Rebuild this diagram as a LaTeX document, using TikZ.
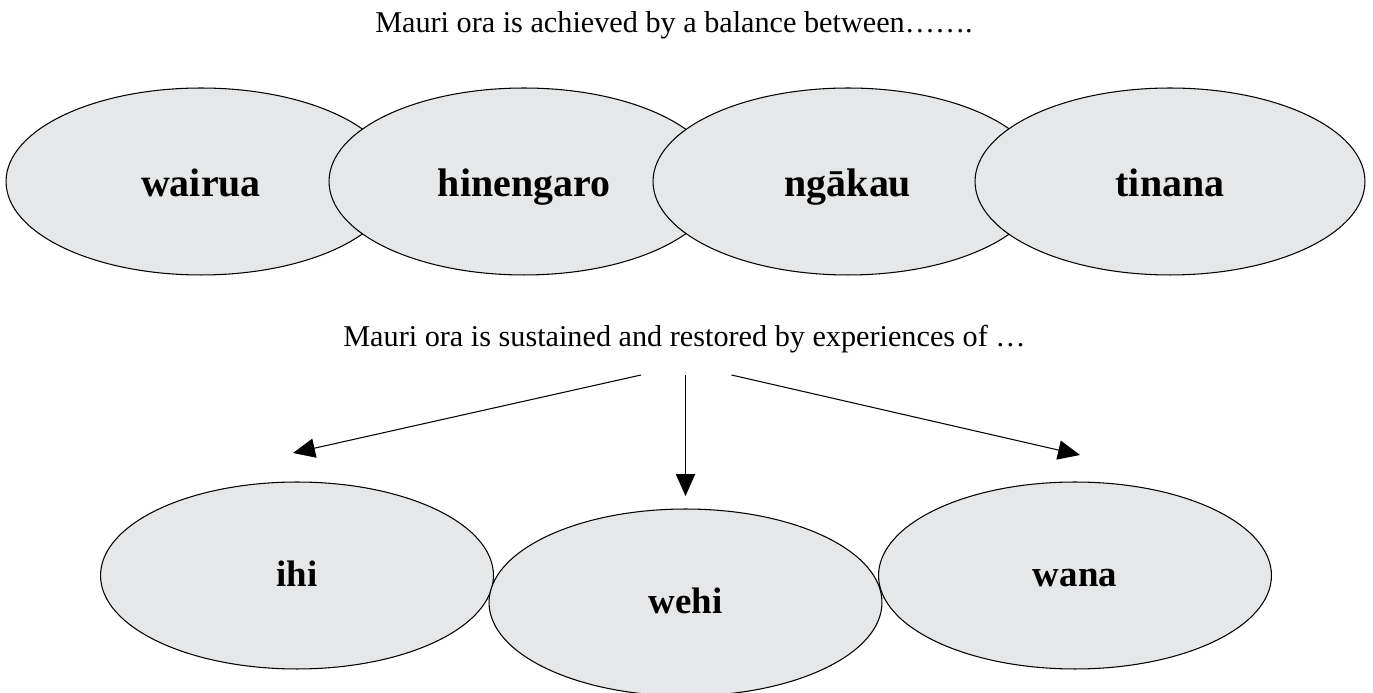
\documentclass[tikz,border=0pt]{standalone}
\usepackage{fontspec}
\setmainfont{Liberation Serif}
\usetikzlibrary{shapes.geometric}
\usetikzlibrary{arrows.meta}
\definecolor{bubblegray}{RGB}{230,231,232}

\begin{document}
\begin{tikzpicture}[x=0.02cm, y=0.02cm,
	bubble/.style={ellipse, draw=black, line width=0.6pt, fill=bubblegray, inner sep=0pt},
	topbubble/.style={bubble, minimum width=7.8cm, minimum height=3.74cm,
	  font=\bfseries\fontsize{22.7}{26}\selectfont, text height=20pt, text depth=2.4pt},
	lowbubble/.style={bubble, minimum width=7.86cm, minimum height=3.74cm,
	  font=\bfseries\fontsize{21}{25}\selectfont, text height=17pt, text depth=4pt},
	caption/.style={font=\fontsize{17.2}{20}\selectfont, anchor=base, inner sep=0pt},
	pointer/.style={-{Triangle[length=12.5pt,width=11pt]}, line width=0.6pt}]
	    \useasboundingbox (0,0) rectangle (1373,693);

	    % headings
	    \node[caption] (balance) at (674,660) {Mauri ora is achieved by a balance between…….};
	    \node[caption] (sustain) at (684.5,346) {Mauri ora is sustained and restored by experiences of …};

	    % four overlapping ellipses
	    \node[topbubble] (wairua) at (201,511.5) {wairua};
	    \node[topbubble] (hinengaro) at (524,511.5) {hinengaro};
	    \node[topbubble] (ngakau) at (848,511.5) {ngākau};
	    \node[topbubble] (tinana) at (1170,511.5) {tinana};

	    % three ellipses below
	    \node[lowbubble] (ihi) at (297,117.5) {ihi};
	    \node[lowbubble] (wehi) at (685.5,90.5) {wehi};
	    \node[lowbubble] (wana) at (1075,117.5) {wana};

	    % arrows
	    \coordinate (ihiFrom) at (641,318);
	    \coordinate (ihiTo) at (293,240);
	    \coordinate (wehiFrom) at (685.5,318);
	    \coordinate (wehiTo) at (685.5,197);
	    \coordinate (wanaFrom) at (731.5,318);
	    \coordinate (wanaTo) at (1080,238);
	    \draw[pointer] (ihiFrom) -- (ihiTo);
	    \draw[pointer] (wehiFrom) -- (wehiTo);
	    \draw[pointer] (wanaFrom) -- (wanaTo);
	  \end{tikzpicture}
\end{document}
